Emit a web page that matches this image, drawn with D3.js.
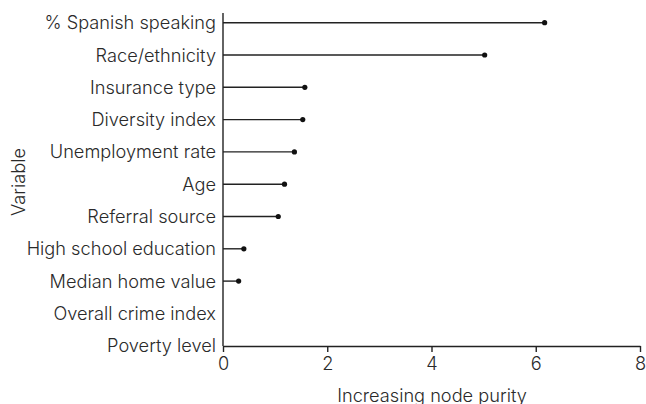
<!DOCTYPE html>
<html><head><meta charset="utf-8">
<script src="https://cdn.jsdelivr.net/npm/d3@7"></script>
<style>
html,body{margin:0;padding:0;background:#fff;}
text{font-family:Inter,Lato,sans-serif;font-weight:300;fill:#2a2a2a;}
</style></head>
<body><svg id="c" width="646" height="404"></svg>
<script>
const variables = ["% Spanish speaking","Race/ethnicity","Insurance type","Diversity index","Unemployment rate","Age","Referral source","High school education","Median home value","Overall crime index","Poverty level"];
const purity = [6.17,5.02,1.57,1.53,1.37,1.18,1.06,0.40,0.30,-0.15,-0.25];
const xTicks = [0,2,4,6,8];

(function(){
const svg = d3.select("#c");
const mLeft = 223, mRight = 640, mTop = 13, mBottom = 346;
const fs = 18.2;
const x = d3.scaleLinear().domain([0,8]).range([mLeft,mRight]);
const y = d3.scalePoint().domain(variables).range([22.7,345.7]);

svg.append("defs").append("clipPath").attr("id","clip")
  .append("rect").attr("x",mLeft).attr("y",0).attr("width",mRight-mLeft+10).attr("height",404);

const g = svg.append("g").attr("clip-path","url(#clip)");
const data = variables.map((v,i)=>({v, val: purity[i]}));
g.selectAll("line.seg").data(data).join("line").attr("class","seg")
  .attr("x1",x(0)).attr("x2",d=>x(d.val)).attr("y1",d=>y(d.v)).attr("y2",d=>y(d.v))
  .attr("stroke","#222").attr("stroke-width",1.4);
g.selectAll("circle").data(data).join("circle")
  .attr("cx",d=>x(d.val)).attr("cy",d=>y(d.v)).attr("r",2.6).attr("fill","#111");

svg.append("line").attr("x1",mLeft).attr("x2",mLeft).attr("y1",mTop).attr("y2",mBottom)
  .attr("stroke","#222").attr("stroke-width",1.4);
svg.selectAll("text.yl").data(variables).join("text").attr("class","yl")
  .attr("x",mLeft-7).attr("y",d=>y(d)).attr("dy","0.36em").attr("text-anchor","end")
  .attr("font-size",fs).text(d=>d);

const xa = svg.append("g").attr("transform",`translate(0,${mBottom})`)
  .call(d3.axisBottom(x).tickValues(xTicks).tickSize(6).tickSizeOuter(0).tickPadding(5.5));
xa.select(".domain").attr("stroke","#222").attr("stroke-width",1.4);
xa.selectAll(".tick line").attr("stroke","#222").attr("stroke-width",1.4);
xa.selectAll(".tick text").attr("font-size",fs).attr("font-family",null).attr("fill",null);

svg.append("text").attr("x",432).attr("y",401.5).attr("text-anchor","middle")
  .attr("font-size",fs).text("Increasing node purity");
svg.append("text").attr("transform","translate(25,182) rotate(-90)").attr("text-anchor","middle")
  .attr("font-size",fs).text("Variable");
})();
</script></body></html>
